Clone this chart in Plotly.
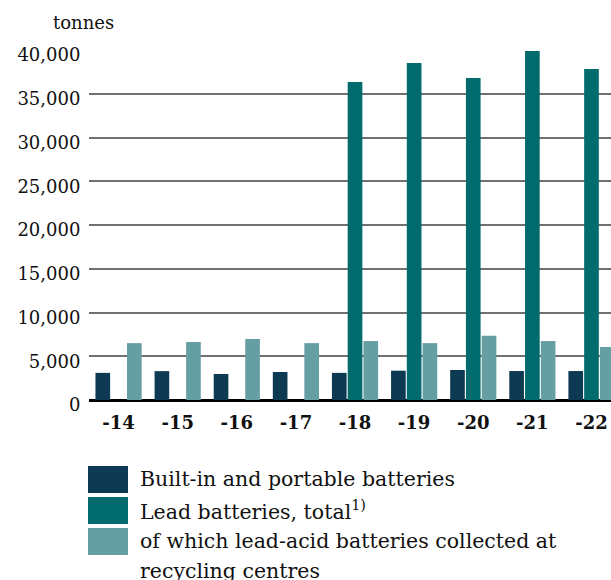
import plotly.graph_objects as go

# Years (x-axis labels)
years = ["-14", "-15", "-16", "-17", "-18", "-19", "-20", "-21", "-22"]

# Collected batteries, tonnes
built_in_portable = [3100, 3300, 2970, 3200, 3100, 3350, 3430, 3310, 3310]
lead_total = [None, None, None, None, 36340, 38510, 36800, 39900, 37830]
lead_acid_recycling = [6500, 6630, 6970, 6500, 6740, 6500, 7350, 6740, 6060]

series_names = [
    "Built-in and portable batteries",
    "Lead batteries, total<sup>1)</sup>",
    "of which lead-acid batteries collected at\nrecycling centres",
]
series_values = [built_in_portable, lead_total, lead_acid_recycling]
series_colors = ["#0d3a52", "#016b6e", "#669fa3"]

y_ticks = [0, 5000, 10000, 15000, 20000, 25000, 30000, 35000, 40000]
y_tick_text = ["0", "5,000", "10,000", "15,000", "20,000", "25,000",
               "30,000", "35,000", "40,000"]

W, H = 611, 580
L, R, T, B = 89, 0, 50, 180
SERIF = "DejaVu Serif, Georgia, serif"
INK = "#111111"

fig = go.Figure()
for name, vals, col in zip(series_names, series_values, series_colors):
    fig.add_trace(go.Bar(x=years, y=vals, name=name, marker_color=col,
                         marker_line_width=0, showlegend=False))

fig.update_layout(
    width=W, height=H,
    margin=dict(l=L, r=R, t=T, b=B, pad=0),
    paper_bgcolor="white", plot_bgcolor="white",
    barmode="group", bargap=0.2, bargroupgap=0.07,
    font=dict(family=SERIF, color=INK),
    xaxis=dict(type="category", range=[-0.5, 8.33], showgrid=False,
               ticks="outside", ticklen=6, tickcolor="rgba(0,0,0,0)",
               tickfont=dict(family=SERIF, size=18, color=INK,
                             weight="bold"),
               showline=False, zeroline=False),
    yaxis=dict(range=[0, 40000], tickvals=y_ticks, ticktext=y_tick_text,
               showgrid=True, gridcolor="#707070", gridwidth=1.6,
               zeroline=True, zerolinecolor="#000000", zerolinewidth=3,
               ticks="outside", ticklen=4, tickcolor="rgba(0,0,0,0)",
               ticklabelshift=5,
               tickfont=dict(family=SERIF, size=18, color=INK),
               showline=False),
)


def px_x(px):
    return (px - L) / (W - L - R)


def px_y(py):
    return (H - B - py) / (H - T - B)


# Unit label above the value axis
fig.add_annotation(text="tonnes", xref="paper", yref="paper",
                   x=px_x(51), y=px_y(23),
                   xanchor="left", yanchor="middle", showarrow=False,
                   font=dict(family=SERIF, size=18, color=INK))

# Legend drawn below the plot: large swatches with serif labels
row_top = 466
row_step = 31
for i, (name, col) in enumerate(zip(series_names, series_colors)):
    top = row_top + i * row_step
    fig.add_shape(type="rect", xref="paper", yref="paper",
                  x0=px_x(88), x1=px_x(128), y0=px_y(top), y1=px_y(top + 27),
                  fillcolor=col, line_width=0)
    lines = name.split("\n")
    for j, line in enumerate(lines):
        fig.add_annotation(text=line, xref="paper", yref="paper",
                           x=px_x(138), y=px_y(top + 13 + j * 30),
                           xanchor="left", yanchor="middle", showarrow=False,
                           font=dict(family=SERIF, size=20.5, color=INK))

fig.write_html("out.html")
